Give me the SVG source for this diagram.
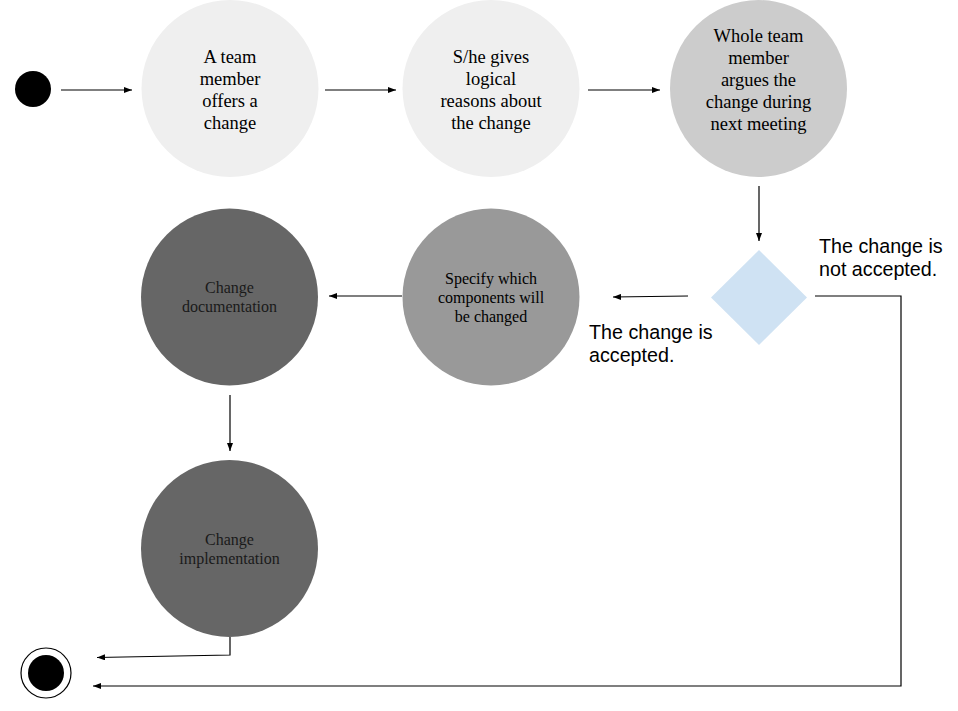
<svg xmlns="http://www.w3.org/2000/svg" width="958" height="711" viewBox="0 0 958 711">
<defs>
<style>
.bg{fill:#ffffff}
.c1{fill:#efefef}
.c3{fill:#cccccc}
.c4{fill:#999999}
.c5{fill:#666666}
.dia{fill:#cfe2f3}
.st{font-family:"Liberation Serif","Times New Roman",serif;font-size:18.5px;fill:#000;text-anchor:middle}
.sm{font-family:"Liberation Serif","Times New Roman",serif;font-size:16px;fill:#000;text-anchor:middle}
.dk{fill:#1a1a1a}
.lbl{font-family:"Liberation Sans",Arial,sans-serif;font-size:19.7px;fill:#000}
.ln{fill:none;stroke:#000;stroke-width:1.2}
</style>
<marker id="ah" viewBox="0 0 8 6" refX="8" refY="3" markerWidth="8" markerHeight="6" markerUnits="userSpaceOnUse" orient="auto">
<path d="M0,0 L8,3 L0,6 z" fill="#000"/>
</marker>
</defs>
<rect class="bg" x="0" y="0" width="958" height="711"/>

<g id="connectors">
<line class="ln" x1="61" y1="90" x2="132" y2="90" marker-end="url(#ah)"/>
<line class="ln" x1="325" y1="90" x2="396" y2="90" marker-end="url(#ah)"/>
<line class="ln" x1="588" y1="90" x2="660" y2="90" marker-end="url(#ah)"/>
<line class="ln" x1="759" y1="186" x2="759" y2="241" marker-end="url(#ah)"/>
<line class="ln" x1="688" y1="296" x2="613" y2="297" marker-end="url(#ah)"/>
<line class="ln" x1="402" y1="296" x2="329" y2="296" marker-end="url(#ah)"/>
<line class="ln" x1="230" y1="395" x2="230" y2="451" marker-end="url(#ah)"/>
<polyline class="ln" points="230,637 230,655 97,657.5" marker-end="url(#ah)"/>
<polyline class="ln" points="815,296 901,296 901,686 93,686" marker-end="url(#ah)"/>
</g>

<g id="start">
<circle cx="33" cy="89" r="18" fill="#000"/>
</g>

<g id="n1">
<circle class="c1" cx="230" cy="88.5" r="88.5"/>
<text class="st"><tspan x="230" y="63">A team</tspan><tspan x="230" y="85">member</tspan><tspan x="230" y="107">offers a</tspan><tspan x="230" y="129">change</tspan></text>
</g>

<g id="n2">
<circle class="c1" cx="491" cy="88.5" r="88.5"/>
<text class="st"><tspan x="491" y="63">S/he gives</tspan><tspan x="491" y="85">logical</tspan><tspan x="491" y="107">reasons about</tspan><tspan x="491" y="129">the change</tspan></text>
</g>

<g id="n3">
<circle class="c3" cx="758.5" cy="88.5" r="88.5"/>
<text class="st"><tspan x="758.5" y="42">Whole team</tspan><tspan x="758.5" y="64">member</tspan><tspan x="758.5" y="86">argues the</tspan><tspan x="758.5" y="108">change during</tspan><tspan x="758.5" y="130">next meeting</tspan></text>
</g>

<g id="decision">
<polygon class="dia" points="759,250 807,297.5 759,345 711,297.5"/>
</g>

<g id="label-not-accepted">
<text class="lbl"><tspan x="819" y="253">The change is</tspan><tspan x="819" y="276">not accepted.</tspan></text>
</g>

<g id="label-accepted">
<text class="lbl"><tspan x="589" y="339">The change is</tspan><tspan x="589" y="362">accepted.</tspan></text>
</g>

<g id="n4">
<circle class="c4" cx="491" cy="297" r="88.5"/>
<text class="sm"><tspan x="491" y="284">Specify which</tspan><tspan x="491" y="303">components will</tspan><tspan x="491" y="322">be changed</tspan></text>
</g>

<g id="n5">
<circle class="c5" cx="229.5" cy="297" r="88.5"/>
<text class="sm dk"><tspan x="229.5" y="293">Change</tspan><tspan x="229.5" y="312">documentation</tspan></text>
</g>

<g id="n6">
<circle class="c5" cx="229.5" cy="548.5" r="88.5"/>
<text class="sm dk"><tspan x="229.5" y="545">Change</tspan><tspan x="229.5" y="564">implementation</tspan></text>
</g>

<g id="end">
<circle cx="46" cy="673" r="25" fill="#fff" stroke="#000" stroke-width="1.2"/>
<circle cx="46" cy="673" r="18" fill="#000"/>
</g>
</svg>
